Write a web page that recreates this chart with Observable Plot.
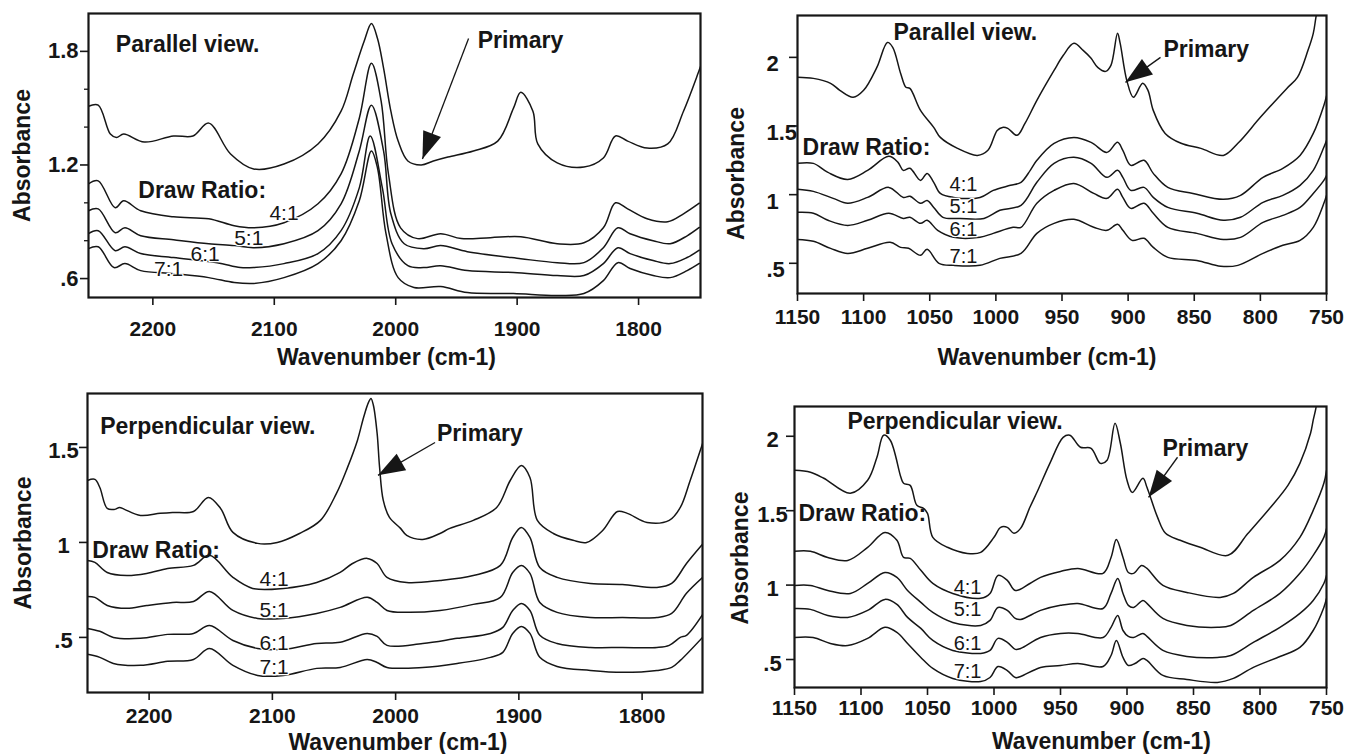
<!DOCTYPE html>
<html>
<head>
<meta charset="utf-8">
<script src="https://cdn.jsdelivr.net/npm/d3@7"></script>
<script src="https://cdn.jsdelivr.net/npm/@observablehq/plot@0.6"></script>
<style>
  body { margin: 0; background: #fff; }
  #figure { position: relative; width: 1361px; height: 754px; overflow: hidden; background: #fff; }
</style>
</head>
<body>
<div id="figure"></div>
<script>
// IR spectra, each point is [wavenumber (cm-1), absorbance].

// Parallel view, 2250-1750 cm-1
const parHigh_primary = [[2253,1.51],[2245,1.516],[2235,1.363],[2230,1.345],[2224,1.363],[2207,1.321],[2183,1.353],[2167,1.353],[2154,1.421],[2136,1.258],[2117,1.179],[2092,1.205],[2064,1.311],[2045,1.484],[2035,1.679],[2026,1.853],[2020,1.947],[2015,1.868],[2010,1.711],[2004,1.484],[1998,1.326],[1990,1.221],[1979,1.2],[1969,1.221],[1957,1.242],[1936,1.274],[1916,1.326],[1903,1.5],[1897,1.584],[1887,1.484],[1883,1.311],[1867,1.211],[1845,1.189],[1829,1.237],[1819,1.353],[1809,1.326],[1793,1.289],[1776,1.311],[1763,1.484],[1751,1.684],[1749,1.72]];
const parHigh_4 = [[2253,1.1],[2245,1.116],[2231,0.974],[2224,1.011],[2210,0.958],[2183,0.926],[2154,0.916],[2133,0.879],[2117,0.868],[2092,0.895],[2064,0.995],[2045,1.153],[2030,1.447],[2020,1.737],[2012,1.537],[2006,1.153],[1996,0.868],[1982,0.811],[1963,0.837],[1946,0.811],[1922,0.816],[1897,0.821],[1867,0.784],[1845,0.789],[1829,0.868],[1819,1.0],[1809,0.968],[1793,0.916],[1776,0.9],[1763,0.942],[1750,0.998]];
const parHigh_5 = [[2253,0.958],[2245,0.968],[2231,0.842],[2223,0.868],[2210,0.826],[2183,0.805],[2154,0.784],[2133,0.774],[2117,0.763],[2092,0.784],[2064,0.853],[2045,0.995],[2030,1.274],[2020,1.516],[2010,1.274],[2004,0.942],[1993,0.784],[1977,0.758],[1963,0.774],[1941,0.742],[1897,0.705],[1867,0.684],[1845,0.684],[1829,0.763],[1817,0.868],[1807,0.837],[1788,0.8],[1774,0.784],[1760,0.826],[1750,0.87]];
const parHigh_6 = [[2253,0.837],[2245,0.853],[2231,0.747],[2223,0.768],[2210,0.732],[2183,0.711],[2147,0.684],[2128,0.658],[2117,0.658],[2092,0.679],[2064,0.732],[2045,0.853],[2030,1.079],[2021,1.353],[2011,1.079],[2003,0.784],[1990,0.668],[1977,0.658],[1963,0.668],[1941,0.642],[1903,0.632],[1867,0.616],[1845,0.616],[1829,0.679],[1817,0.763],[1807,0.732],[1788,0.695],[1774,0.679],[1760,0.711],[1750,0.75]];
const parHigh_7 = [[2253,0.758],[2245,0.768],[2232,0.658],[2223,0.679],[2210,0.642],[2183,0.626],[2154,0.605],[2133,0.579],[2117,0.574],[2092,0.605],[2064,0.679],[2045,0.8],[2030,1.011],[2020,1.274],[2015,1.184],[2008,0.837],[1998,0.605],[1985,0.553],[1963,0.558],[1941,0.526],[1903,0.521],[1867,0.511],[1845,0.521],[1829,0.589],[1817,0.684],[1807,0.653],[1788,0.616],[1774,0.605],[1760,0.642],[1750,0.68]];

// Parallel view, 1150-750 cm-1
const parLow_primary = [[1150,1.855],[1138,1.847],[1125,1.811],[1118,1.76],[1108,1.709],[1100,1.76],[1090,1.927],[1082,2.109],[1078,2.073],[1072,1.883],[1068,1.782],[1065,1.774],[1057,1.614],[1047,1.49],[1042,1.417],[1029,1.337],[1014,1.286],[1006,1.323],[999,1.468],[995,1.49],[991,1.483],[984,1.432],[978,1.519],[969,1.687],[956,1.905],[949,2.015],[941,2.102],[934,2.051],[928,1.993],[923,1.927],[917,1.898],[913,1.942],[908,2.175],[906,2.102],[901,1.832],[896,1.709],[889,1.811],[885,1.76],[881,1.614],[872,1.446],[860,1.374],[845,1.337],[828,1.286],[817,1.374],[800,1.563],[780,1.774],[772,1.854],[764,2.051],[760,2.175],[758,2.291],[756,2.4]];
const parLow_4 = [[1150,1.228],[1138,1.228],[1127,1.162],[1112,1.111],[1097,1.177],[1081,1.279],[1074,1.235],[1070,1.177],[1065,1.192],[1057,1.104],[1052,1.155],[1047,1.09],[1042,1.009],[1032,0.98],[1012,0.98],[1002,1.031],[989,1.068],[981,1.09],[974,1.177],[969,1.25],[956,1.374],[941,1.417],[928,1.381],[916,1.308],[908,1.381],[904,1.323],[898,1.213],[888,1.25],[881,1.155],[870,1.053],[851,1.009],[828,0.966],[815,0.995],[798,1.126],[783,1.192],[770,1.286],[760,1.446],[752,1.65],[750,1.72]];
const parLow_5 = [[1150,1.039],[1138,1.024],[1123,0.973],[1112,0.937],[1097,0.98],[1081,1.053],[1070,0.98],[1065,0.988],[1057,0.937],[1052,0.958],[1047,0.907],[1040,0.835],[1027,0.827],[1009,0.827],[997,0.886],[981,0.922],[969,1.09],[956,1.228],[941,1.272],[928,1.228],[916,1.126],[908,1.177],[904,1.126],[898,1.031],[888,1.053],[881,0.98],[870,0.907],[848,0.864],[828,0.813],[815,0.835],[798,0.944],[783,0.995],[770,1.068],[760,1.177],[752,1.345],[750,1.395]];
const parLow_6 = [[1150,0.871],[1138,0.864],[1127,0.813],[1112,0.776],[1097,0.813],[1081,0.864],[1070,0.827],[1065,0.835],[1057,0.791],[1052,0.813],[1044,0.74],[1032,0.689],[1012,0.689],[1002,0.718],[987,0.762],[981,0.762],[969,0.937],[956,1.031],[941,1.082],[926,1.009],[916,0.973],[908,1.039],[904,0.98],[898,0.9],[888,0.937],[881,0.864],[870,0.762],[848,0.718],[828,0.674],[815,0.689],[798,0.798],[783,0.849],[770,0.907],[760,1.009],[752,1.104],[750,1.14]];
const parLow_7 = [[1150,0.674],[1138,0.66],[1125,0.609],[1112,0.572],[1097,0.609],[1080,0.653],[1072,0.616],[1066,0.609],[1057,0.558],[1052,0.602],[1043,0.5],[1032,0.485],[1012,0.485],[997,0.536],[981,0.572],[969,0.718],[956,0.791],[941,0.82],[926,0.762],[916,0.74],[908,0.784],[904,0.74],[897,0.667],[888,0.682],[881,0.616],[870,0.543],[848,0.521],[830,0.478],[817,0.485],[798,0.572],[783,0.631],[770,0.667],[760,0.762],[752,0.937],[750,0.995]];

// Perpendicular view, 2250-1750 cm-1
const perpHigh_primary = [[2250,1.326],[2244,1.332],[2240,1.289],[2234,1.179],[2228,1.174],[2224,1.184],[2220,1.174],[2207,1.142],[2191,1.153],[2181,1.158],[2164,1.163],[2152,1.237],[2142,1.179],[2132,1.053],[2112,0.995],[2096,1.0],[2078,1.047],[2061,1.116],[2048,1.258],[2039,1.395],[2031,1.537],[2026,1.658],[2022,1.737],[2020,1.758],[2018,1.721],[2015,1.574],[2013,1.395],[2010,1.221],[2005,1.132],[1996,1.074],[1991,1.037],[1978,1.016],[1964,1.047],[1956,1.074],[1937,1.116],[1918,1.184],[1907,1.326],[1898,1.405],[1891,1.342],[1885,1.116],[1872,1.047],[1856,1.011],[1845,1.0],[1832,1.063],[1820,1.163],[1812,1.153],[1796,1.105],[1778,1.116],[1769,1.184],[1761,1.326],[1752,1.5],[1751,1.52]];
const perpHigh_4 = [[2250,0.905],[2244,0.895],[2234,0.842],[2218,0.826],[2202,0.837],[2185,0.863],[2164,0.879],[2151,0.932],[2132,0.816],[2116,0.758],[2091,0.758],[2064,0.789],[2045,0.842],[2035,0.889],[2023,0.916],[2015,0.889],[2007,0.816],[1991,0.789],[1964,0.8],[1937,0.826],[1915,0.879],[1905,1.026],[1898,1.079],[1891,1.026],[1883,0.868],[1869,0.816],[1842,0.784],[1816,0.779],[1788,0.763],[1776,0.784],[1764,0.889],[1751,0.99]];
const perpHigh_5 = [[2250,0.716],[2244,0.711],[2234,0.668],[2218,0.653],[2202,0.668],[2181,0.684],[2164,0.689],[2151,0.742],[2132,0.642],[2112,0.6],[2091,0.6],[2064,0.626],[2045,0.658],[2023,0.711],[2015,0.684],[2007,0.642],[1991,0.632],[1964,0.642],[1937,0.674],[1915,0.711],[1905,0.842],[1898,0.879],[1891,0.837],[1883,0.684],[1869,0.632],[1842,0.605],[1816,0.605],[1788,0.605],[1776,0.626],[1764,0.732],[1751,0.815]];
const perpHigh_6 = [[2250,0.547],[2240,0.532],[2229,0.5],[2207,0.495],[2185,0.516],[2164,0.521],[2151,0.563],[2132,0.484],[2112,0.442],[2091,0.437],[2064,0.468],[2045,0.474],[2023,0.521],[2015,0.505],[2007,0.458],[1978,0.468],[1950,0.495],[1923,0.521],[1913,0.553],[1905,0.642],[1898,0.679],[1891,0.642],[1883,0.511],[1869,0.468],[1842,0.447],[1816,0.447],[1788,0.447],[1778,0.458],[1769,0.5],[1764,0.511],[1751,0.62]];
const perpHigh_7 = [[2250,0.411],[2240,0.395],[2229,0.363],[2207,0.353],[2185,0.374],[2164,0.384],[2151,0.442],[2132,0.353],[2112,0.3],[2091,0.3],[2064,0.337],[2045,0.342],[2023,0.384],[2015,0.368],[2007,0.342],[1978,0.342],[1950,0.363],[1923,0.395],[1913,0.421],[1905,0.521],[1898,0.558],[1891,0.521],[1883,0.395],[1869,0.347],[1842,0.326],[1816,0.316],[1788,0.326],[1776,0.342],[1769,0.379],[1751,0.5]];

// Perpendicular view, 1150-750 cm-1
const perpLow_primary = [[1150,1.771],[1138,1.758],[1128,1.718],[1108,1.617],[1095,1.704],[1088,1.859],[1083,2.007],[1078,1.973],[1070,1.724],[1068,1.684],[1063,1.67],[1058,1.536],[1053,1.516],[1050,1.482],[1046,1.321],[1035,1.254],[1020,1.213],[1010,1.22],[1000,1.321],[995,1.388],[990,1.388],[985,1.348],[980,1.381],[973,1.523],[967,1.637],[958,1.818],[948,1.993],[943,2.007],[935,1.926],[927,1.919],[920,1.818],[915,1.839],[909,2.087],[905,1.953],[900,1.704],[896,1.623],[888,1.718],[885,1.657],[877,1.455],[871,1.348],[860,1.301],[845,1.254],[824,1.2],[809,1.348],[792,1.523],[779,1.67],[770,1.818],[762,2.02],[760,2.108],[758,2.188],[756,2.3]];
const perpLow_4 = [[1150,1.227],[1138,1.227],[1125,1.186],[1110,1.166],[1095,1.254],[1082,1.354],[1073,1.301],[1068,1.186],[1063,1.18],[1055,1.099],[1046,1.011],[1031,0.944],[1010,0.911],[1003,0.944],[997,1.065],[990,1.032],[984,0.964],[973,1.011],[965,1.052],[950,1.092],[937,1.112],[918,1.079],[912,1.186],[908,1.307],[903,1.186],[899,1.085],[895,1.079],[889,1.132],[885,1.112],[873,0.998],[855,0.951],[830,0.917],[820,0.944],[805,1.052],[785,1.166],[770,1.321],[760,1.502],[752,1.684],[750,1.77]];
const perpLow_5 = [[1150,0.998],[1138,0.998],[1125,0.964],[1108,0.944],[1095,1.011],[1082,1.085],[1073,1.052],[1065,0.964],[1055,0.884],[1046,0.816],[1031,0.749],[1010,0.729],[1003,0.763],[997,0.85],[990,0.83],[984,0.776],[980,0.769],[965,0.83],[950,0.864],[937,0.877],[918,0.843],[912,0.944],[907,1.045],[903,0.944],[899,0.864],[895,0.85],[888,0.897],[885,0.877],[873,0.776],[855,0.729],[832,0.716],[822,0.729],[805,0.83],[785,0.944],[770,1.079],[760,1.2],[752,1.321],[750,1.38]];
const perpLow_6 = [[1150,0.843],[1138,0.837],[1125,0.796],[1110,0.783],[1095,0.83],[1082,0.904],[1073,0.87],[1065,0.783],[1055,0.709],[1046,0.628],[1031,0.561],[1010,0.541],[1003,0.561],[997,0.642],[990,0.615],[984,0.568],[980,0.574],[965,0.648],[950,0.675],[937,0.675],[918,0.648],[912,0.716],[907,0.796],[903,0.695],[899,0.655],[895,0.648],[888,0.675],[885,0.655],[873,0.561],[855,0.521],[832,0.514],[822,0.527],[805,0.615],[785,0.716],[770,0.81],[760,0.897],[752,1.011],[750,1.065]];
const perpLow_7 = [[1150,0.648],[1136,0.648],[1123,0.608],[1110,0.594],[1095,0.642],[1082,0.716],[1073,0.682],[1065,0.608],[1055,0.514],[1046,0.44],[1031,0.373],[1010,0.352],[1003,0.379],[997,0.453],[990,0.426],[984,0.379],[980,0.386],[965,0.447],[950,0.46],[937,0.473],[918,0.453],[912,0.527],[908,0.628],[903,0.514],[899,0.46],[894,0.473],[888,0.507],[885,0.494],[873,0.393],[855,0.366],[832,0.346],[820,0.373],[805,0.447],[785,0.52],[770,0.581],[760,0.695],[752,0.85],[750,0.91]];

// Axis ticks and labels
const ticksHigh = [2200, 2100, 2000, 1900, 1800];
const ticksLow = [1150, 1100, 1050, 1000, 950, 900, 850, 800, 750];
const yTicksParHigh = [0.6, 1.2, 1.8];
const yMinorParHigh = [0.8, 1.0, 1.4, 1.6];
const yTicksParLow = [0.5, 1, 1.5, 2];
const yTicksPerpHigh = [0.5, 1, 1.5];
const yTicksPerpLow = [0.5, 1, 1.5, 2];
const ratioLabels = ["4:1", "5:1", "6:1", "7:1"];

const FONT = "'Liberation Sans', Arial, Helvetica, sans-serif";
const INK = "#161616";
const fmtTick = d => String(d).replace(/^0\./, ".");

// Filled arrowhead: tip at the origin, pointing up before rotation.
const arrowHead = {
  draw(ctx) {
    ctx.moveTo(0, 0);
    ctx.lineTo(-9.5, 27);
    ctx.lineTo(9.5, 27);
    ctx.closePath();
  }
};

// xTitle: [dx, baseline offset below the frame]
const panels = [
  {
    left: 0, top: 0, width: 720, height: 375, margin: [13, 20, 78, 88],
    xDomain: [2253, 1749], yDomain: [0.5, 2.0],
    xTicks: ticksHigh, yTicks: yTicksParHigh, yMinor: yMinorParHigh,
    xPad: 16, yLabel: {anchor: "end", dx: -10, dy: 0},
    series: [parHigh_primary, parHigh_4, parHigh_5, parHigh_6, parHigh_7],
    view: "Parallel view.", viewAt: [2230.5, 1.834], drawAt: [2212, 1.063],
    ratioX: [2092, 2121, 2157, 2187], ratioY: [0.947, 0.811, 0.726, 0.647], ratioSize: 21,
    primaryAt: [1932.5, 1.855], arrow: [[1940, 1.868], [1978, 1.232]],
    xTitle: [-8, 67], yTitle: [-66, 0]
  },
  {
    left: 700, top: 0, width: 661, height: 375, margin: [15, 35, 82, 97],
    xDomain: [1150, 750], yDomain: [0.28, 2.305],
    xTicks: ticksLow, yTicks: yTicksParLow, yMinor: null,
    xPad: 8, yLabel: {anchor: "start", dx: -31, dy: 7},
    series: [parLow_primary, parLow_4, parLow_5, parLow_6, parLow_7],
    view: "Parallel view.", viewAt: [1077.4, 2.178], drawAt: [1146.2, 1.341],
    ratioX: [1024.5, 1024.5, 1024.5, 1024.5], ratioY: [1.075, 0.911, 0.744, 0.551], ratioSize: 20,
    primaryAt: [873.3, 2.055], arrow: [[875.5, 2.0], [902, 1.818]],
    xTitle: [-15, 71], yTitle: [-61, 19]
  },
  {
    left: 0, top: 375, width: 720, height: 379, margin: [18, 18, 62, 87],
    xDomain: [2250, 1751], yDomain: [0.21, 1.784],
    xTicks: ticksHigh, yTicks: yTicksPerpHigh, yMinor: null,
    xPad: 8, yLabel: {anchor: "middle", dx: -24, dy: 4},
    series: [perpHigh_primary, perpHigh_4, perpHigh_5, perpHigh_6, perpHigh_7],
    view: "Perpendicular view.", viewAt: [2239.7, 1.61], drawAt: [2246.2, 0.955],
    ratioX: [2098.6, 2098.6, 2098.6, 2098.6], ratioY: [0.805, 0.642, 0.468, 0.342], ratioSize: 21,
    primaryAt: [1966.4, 1.571], arrow: [[1968, 1.526], [2014.3, 1.353]],
    xTitle: [3, 57], yTitle: [-64, 0]
  },
  {
    left: 700, top: 375, width: 661, height: 379, margin: [31, 35, 67, 94],
    xDomain: [1150, 750], yDomain: [0.312, 2.2],
    xTicks: ticksLow, yTicks: yTicksPerpLow, yMinor: null,
    xPad: 5, yLabel: {anchor: "middle", dx: -22, dy: 4},
    series: [perpLow_primary, perpLow_4, perpLow_5, perpLow_6, perpLow_7],
    view: "Perpendicular view.", viewAt: [1110.2, 2.098], drawAt: [1147, 1.479],
    ratioX: [1019.9, 1019.9, 1019.9, 1019.9], ratioY: [0.985, 0.833, 0.608, 0.42], ratioSize: 20,
    primaryAt: [873.3, 1.916], arrow: [[862, 1.859], [883.8, 1.59]],
    xTitle: [41, 61], yTitle: [-54, 11]
  }
];

function drawPanel(p) {
  const [mt, mr, mb, ml] = p.margin;
  const W = p.width - ml - mr, H = p.height - mt - mb;
  // pixels per data unit, used to orient the arrowhead along its shaft
  const kx = W / (p.xDomain[1] - p.xDomain[0]);
  const ky = -H / (p.yDomain[1] - p.yDomain[0]);
  const [from, to] = p.arrow;
  const headAngle = Math.atan2((to[0] - from[0]) * kx, -(to[1] - from[1]) * ky) * 180 / Math.PI;
  const ratioRows = ratioLabels.map((t, i) => ({t, x: p.ratioX[i], y: p.ratioY[i]}));
  const bold = {fontSize: 23, fontWeight: "bold", fill: INK};

  return Plot.plot({
    width: p.width, height: p.height,
    marginTop: mt, marginRight: mr, marginBottom: mb, marginLeft: ml,
    style: {fontFamily: FONT, fontSize: "21px", fontWeight: "bold", color: INK, background: "transparent"},
    x: {domain: p.xDomain},
    y: {domain: p.yDomain},
    marks: [
      ...p.series.map(s => Plot.line(s, {
        x: d => d[0], y: d => d[1], curve: "catmull-rom",
        stroke: INK, strokeWidth: 1.5, clip: true
      })),
      Plot.frame({stroke: INK, strokeWidth: 2.2}),
      Plot.axisX({ticks: p.xTicks, tickSize: 8, tickPadding: p.xPad, tickFormat: d => String(d), label: null, strokeWidth: 1.6}),
      Plot.axisY({ticks: p.yTicks, tickSize: 8, tickFormat: () => "", label: null, strokeWidth: 1.6}),
      p.yMinor ? Plot.axisY({ticks: p.yMinor, tickSize: 4, tickFormat: () => "", label: null, strokeWidth: 1.3}) : null,
      Plot.text(p.yTicks, {
        y: d => d, frameAnchor: "left", text: fmtTick, fontSize: 22,
        textAnchor: p.yLabel.anchor, lineAnchor: "middle", dx: p.yLabel.dx, dy: p.yLabel.dy, fill: INK
      }),
      Plot.text(["Wavenumber (cm-1)"], {
        text: d => d, frameAnchor: "bottom", textAnchor: "middle", lineAnchor: "bottom",
        dx: p.xTitle[0], dy: p.xTitle[1], ...bold
      }),
      Plot.text(["Absorbance"], {
        text: d => d, frameAnchor: "left", rotate: -90, textAnchor: "middle", lineAnchor: "middle",
        dx: p.yTitle[0], dy: p.yTitle[1], ...bold
      }),
      Plot.text([{t: p.view, x: p.viewAt[0], y: p.viewAt[1]}], {x: "x", y: "y", text: "t", textAnchor: "start", ...bold}),
      Plot.text([{t: "Draw Ratio:", x: p.drawAt[0], y: p.drawAt[1]}], {x: "x", y: "y", text: "t", textAnchor: "start", ...bold}),
      Plot.text(ratioRows, {
        x: "x", y: "y", text: "t", fontSize: p.ratioSize, fontWeight: "normal",
        fill: INK, stroke: "white", strokeWidth: 2.5, paintOrder: "stroke"
      }),
      Plot.text([{t: "Primary", x: p.primaryAt[0], y: p.primaryAt[1]}], {x: "x", y: "y", text: "t", textAnchor: "start", ...bold}),
      Plot.link([{x1: from[0], y1: from[1], x2: to[0], y2: to[1]}], {
        x1: "x1", y1: "y1", x2: "x2", y2: "y2", stroke: INK, strokeWidth: 1.3
      }),
      Plot.dot([{x: to[0], y: to[1]}], {
        x: "x", y: "y", r: 5, symbol: arrowHead, fill: INK, stroke: "none", rotate: headAngle
      })
    ]
  });
}

const root = document.getElementById("figure");
for (const p of panels) {
  const el = drawPanel(p);
  el.style.position = "absolute";
  el.style.left = p.left + "px";
  el.style.top = p.top + "px";
  root.appendChild(el);
}
</script>
</body>
</html>
